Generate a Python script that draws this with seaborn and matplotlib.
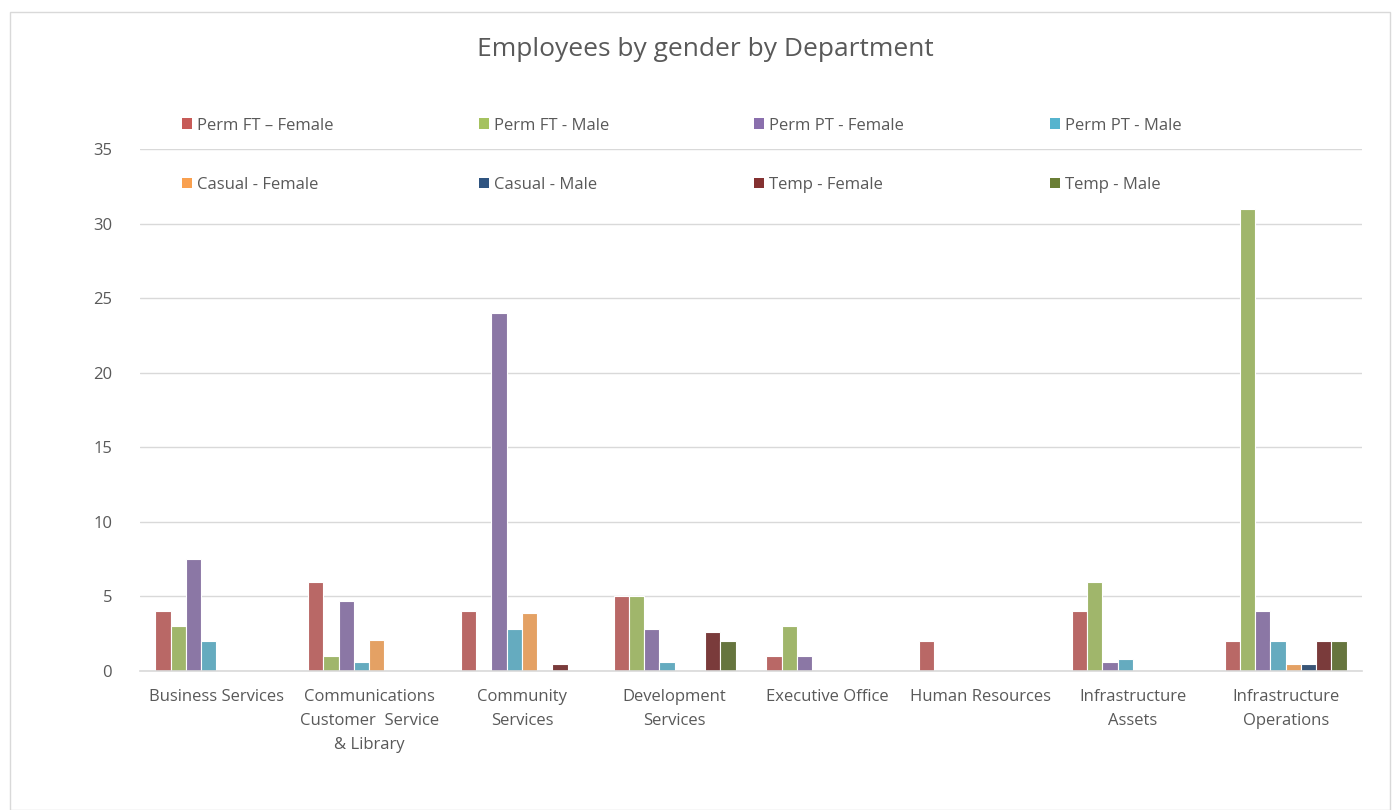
import numpy as np
import pandas as pd
import seaborn as sns
import matplotlib.pyplot as plt
from matplotlib.patches import Patch, Rectangle

departments = ["Business Services", "Communications\nCustomer  Service\n& Library",
               "Community\nServices", "Development\nServices", "Executive Office",
               "Human Resources", "Infrastructure\nAssets", "Infrastructure\nOperations"]

series_names = ["Perm FT \u2013 Female", "Perm FT - Male", "Perm PT - Female", "Perm PT - Male",
                "Casual - Female", "Casual - Male", "Temp - Female", "Temp - Male"]

perm_ft_female = [4, 6, 4, 5, 1, 2, 4, 2]
perm_ft_male = [3, 1, 0, 5, 3, 0, 6, 31]
perm_pt_female = [7.5, 4.7, 24, 2.8, 1, 0, 0.6, 4]
perm_pt_male = [2, 0.6, 2.8, 0.6, 0, 0, 0.8, 2]
casual_female = [0, 2.1, 3.9, 0, 0, 0, 0, 0.5]
casual_male = [0, 0, 0, 0, 0, 0, 0, 0.5]
temp_female = [0, 0, 0.45, 2.6, 0, 0, 0, 2]
temp_male = [0, 0, 0, 2, 0, 0, 0, 2]

colors = ["#C75B58", "#A5C25F", "#8A6FAD", "#56B4CE",
          "#F9A04F", "#2F5480", "#843131", "#6A7E35"]

all_series = [perm_ft_female, perm_ft_male, perm_pt_female, perm_pt_male,
              casual_female, casual_male, temp_female, temp_male]

rows = []
for name, vals in zip(series_names, all_series):
    for dep, v in zip(departments, vals):
        rows.append({"dept": dep, "series": name, "value": v})
df = pd.DataFrame(rows)

sns.set_style("white")
plt.rcParams['font.family'] = ['Open Sans', 'DejaVu Sans']
text_col = "#595959"

fig = plt.figure(figsize=(13.94, 8.10), dpi=100)
ax = fig.add_axes([140/1394, 1 - 671/810, (1362 - 140)/1394, (671 - 149)/810])

sns.barplot(data=df, x="dept", y="value", hue="series", order=departments,
            hue_order=series_names, palette=colors, width=0.8,
            edgecolor="white", linewidth=0.8, legend=False, ax=ax)

ax.set_ylim(0, 35)
ax.set_yticks(range(0, 36, 5))
ax.yaxis.grid(True, color="#D9D9D9", linewidth=1)
ax.set_axisbelow(True)
for s in ["top", "right", "left"]:
    ax.spines[s].set_visible(False)
ax.spines["bottom"].set_color("#D9D9D9")
ax.spines["bottom"].set_linewidth(1.2)
ax.tick_params(axis="both", length=0, colors=text_col, labelsize=12)
ax.tick_params(axis="y", pad=20)
ax.tick_params(axis="x", pad=13)
for lbl in ax.get_xticklabels():
    lbl.set_linespacing(1.65)
ax.set_xlabel("")
ax.set_ylabel("")

fig.text(0.506, 1 - 50/810, "Employees by gender by Department", ha="center", va="center",
         fontsize=19, color=text_col)

# matplotlib fills legend columns first, so reorder to get row-wise entries
order = [0, 4, 1, 5, 2, 6, 3, 7]
handles = [Patch(facecolor=colors[i], edgecolor="none") for i in order]
labels = [series_names[i] for i in order]
leg = fig.legend(handles, labels, ncol=4, frameon=False, loc="upper left",
                 bbox_to_anchor=(175/1394, 1 - 119/810, (1188 - 175)/1394, 0.01),
                 mode="expand", handlelength=0.6, handleheight=0.6, handletextpad=0.3,
                 labelspacing=2.6, fontsize=12, borderaxespad=0)
for t in leg.get_texts():
    t.set_color(text_col)

fig.patches.append(Rectangle((10/1394, 0), (1390 - 10)/1394, 1 - 12/810,
                             transform=fig.transFigure, fill=False,
                             edgecolor="#D9D9D9", linewidth=1))

fig.savefig("out.png", dpi=100)
